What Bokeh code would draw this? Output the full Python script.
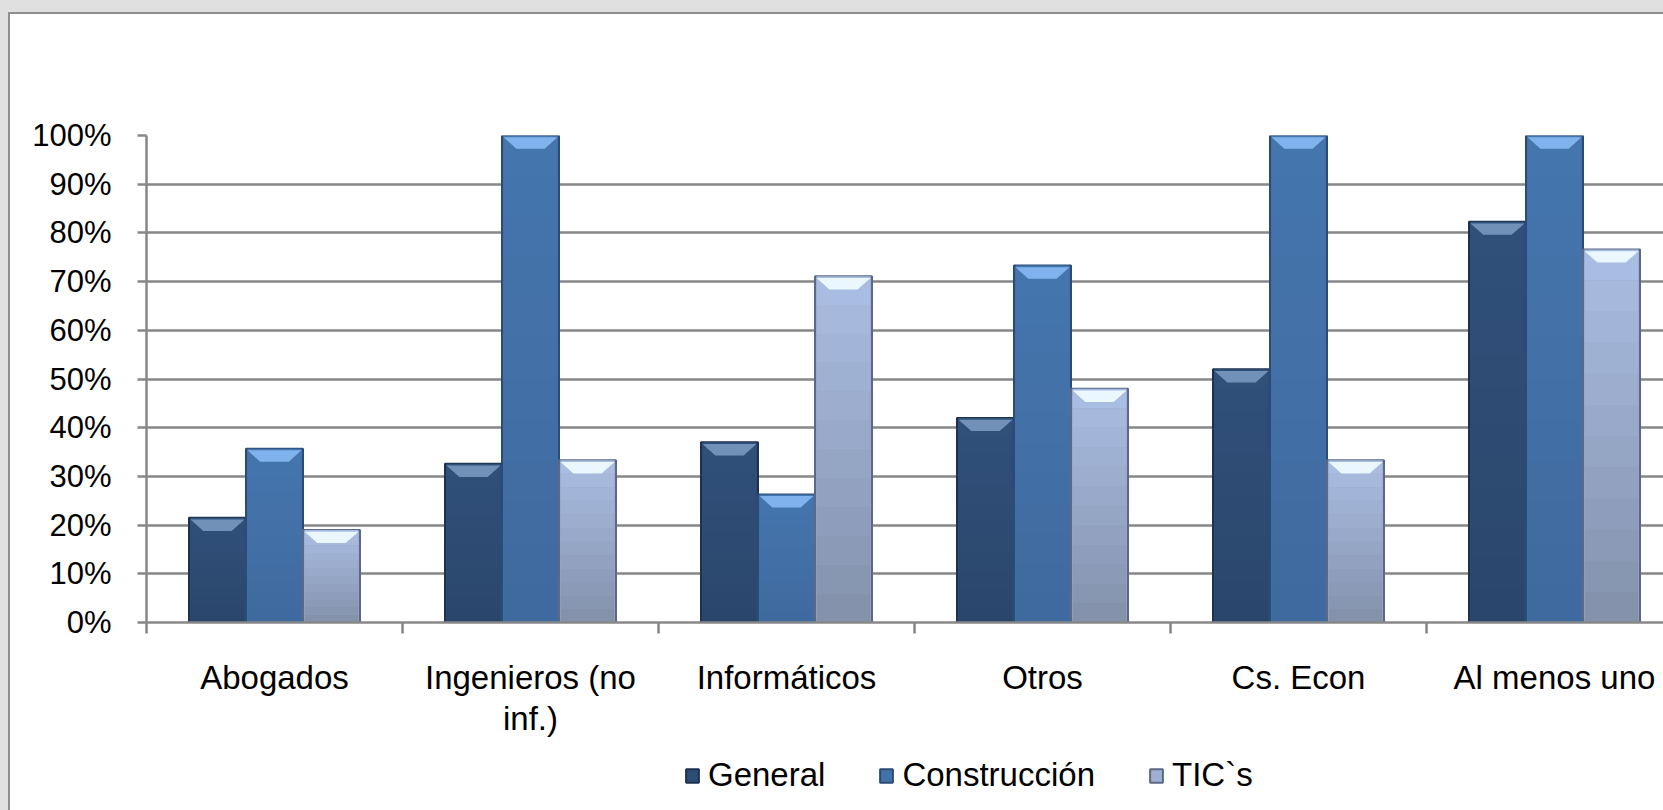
from bokeh.plotting import figure
from bokeh.layouts import column
from bokeh.models import FixedTicker, Legend, LegendItem, Range1d
from bokeh.embed import file_html
from bokeh.resources import INLINE

categories = ["Abogados", "Ingenieros (no\ninf.)", "Informáticos", "Otros", "Cs. Econ", "Al menos uno"]
series_names = ["General", "Construcción", "TIC`s"]
general = [21.5, 32.6, 37.0, 42.0, 52.0, 82.3]
construccion = [35.7, 100.0, 26.3, 73.3, 100.0, 100.0]
tics = [19.0, 33.3, 71.1, 48.0, 33.3, 76.6]
y_ticks = [0, 10, 20, 30, 40, 50, 60, 70, 80, 90, 100]
y_tick_labels = ["0%", "10%", "20%", "30%", "40%", "50%", "60%", "70%", "80%", "90%", "100%"]

FONT = "Liberation Sans"
OX, OY = 10, 14          # figure offset on the page (grey frame around)
LEG_H = 60               # height of the legend strip at the bottom
W = 1663 - OX
H = 810 - OY - LEG_H
BAR_W = 0.2227
BEV_H = 2.7      # bevel height in % units
BEV_D = 0.05     # bevel inset in category units
PAGE_BG = "#e0e0e0"
EDGE = "#8e8e8e"

p = figure(width=W, height=H, output_backend="svg", toolbar_location=None,
           x_range=Range1d(0, (1663 - 146) / 256.0), y_range=Range1d(0, 100),
           min_border_left=146 - OX, min_border_right=0, min_border_top=135 - OY,
           min_border_bottom=H - (622 - OY), margin=(OY, 0, 0, OX))
p.styles = {"box-shadow": f"-2px 0 0 0 {EDGE}, 0 -2px 0 0 {EDGE}, -2px -2px 0 0 {EDGE}, "
                          f"-{OX}px 0 0 0 {PAGE_BG}, 0 -{OY}px 0 0 {PAGE_BG}, -{OX}px -{OY}px 0 0 {PAGE_BG}"}
p.outline_line_color = None
p.background_fill_color = "white"
p.border_fill_color = "white"

grid_c = "#878787"
p.xgrid.visible = False
p.ygrid.grid_line_color = grid_c
p.ygrid.grid_line_width = 2.5

p.yaxis.ticker = FixedTicker(ticks=y_ticks)
p.yaxis.major_label_overrides = {t: l for t, l in zip(y_ticks, y_tick_labels)}
p.yaxis.major_label_text_font = FONT
p.yaxis.major_label_text_font_size = "31px"
p.yaxis.major_label_text_color = "black"
p.yaxis.major_tick_out = 9
p.yaxis.major_tick_in = 0
p.yaxis.minor_tick_line_color = None
p.yaxis.major_label_standoff = 26
p.yaxis.axis_line_color = grid_c
p.yaxis.axis_line_width = 2.5
p.yaxis.major_tick_line_color = grid_c
p.yaxis.major_tick_line_width = 2.5

centers = [i + 0.5 for i in range(len(categories))]
p.xaxis.ticker = FixedTicker(ticks=centers, minor_ticks=list(range(len(categories) + 1)))
p.xaxis.major_label_overrides = {c: l for c, l in zip(centers, categories)}
p.xaxis.major_label_text_font = FONT
p.xaxis.major_label_text_font_size = "33px"
p.xaxis.major_label_text_color = "black"
p.xaxis.major_label_text_line_height = 1.12
p.xaxis.major_label_standoff = 25
p.xaxis.major_tick_line_color = None
p.xaxis.major_tick_out = 0
p.xaxis.major_tick_in = 0
p.xaxis.minor_tick_out = 11
p.xaxis.minor_tick_in = 0
p.xaxis.minor_tick_line_color = grid_c
p.xaxis.minor_tick_line_width = 2.5
p.xaxis.axis_line_color = grid_c
p.xaxis.axis_line_width = 2.5


def mix(c1, c2, t):
    a = [int(c1[i:i + 2], 16) for i in (1, 3, 5)]
    b = [int(c2[i:i + 2], 16) for i in (1, 3, 5)]
    return "#%02x%02x%02x" % tuple(round(a[j] + (b[j] - a[j]) * t) for j in range(3))


styles = [
    dict(top="#30507a", bot="#2b466b", line="#1d3150", hi="#7291b8"),
    dict(top="#4575ae", bot="#3f6a9e", line="#2b4c78", hi="#80b3ee"),
    dict(top="#abbee3", bot="#8290aa", line="#5d6984", hi="#eaf7ff"),
]
NB = 12

for k, (name, vals) in enumerate(zip(series_names, [general, construccion, tics])):
    off = (k - 1) * BAR_W
    xs = [c + off for c in centers]
    st = styles[k]
    p.vbar(x=xs, top=vals, bottom=0, width=BAR_W, fill_color=mix(st["top"], st["bot"], 0.5),
           line_color=st["line"], line_width=2)
    for b in range(NB):
        t0, t1 = b / NB, (b + 1) / NB
        p.vbar(x=xs, top=[v * (1 - t0) for v in vals], bottom=[v * (1 - t1) for v in vals],
               width=BAR_W - 0.012, fill_color=mix(st["top"], st["bot"], (t0 + t1) / 2),
               line_color=None)
    pxs, pys = [], []
    for x, v in zip(xs, vals):
        l, rr = x - BAR_W / 2 + 0.006, x + BAR_W / 2 - 0.006
        pxs.append([l, rr, rr - BEV_D, l + BEV_D])
        pys.append([v - 0.35, v - 0.35, v - BEV_H, v - BEV_H])
    p.patches(xs=pxs, ys=pys, fill_color=st["hi"], line_color=None)

# legend strip (its frame is aligned with the main plot's frame by the column)
lf = figure(width=W, height=LEG_H, output_backend="svg", toolbar_location=None,
            x_range=Range1d(0, 1), y_range=Range1d(0, 1), x_axis_location=None,
            y_axis_location=None, min_border=0, margin=(0, 0, 0, OX))
lf.styles = {"box-shadow": f"-2px 0 0 0 {EDGE}, -{OX}px 0 0 0 {PAGE_BG}"}
lf.outline_line_color = None
lf.xgrid.visible = False
lf.ygrid.visible = False
lf.background_fill_color = "white"
lf.border_fill_color = "white"
items = []
for k, name in enumerate(series_names):
    st = styles[k]
    # zero-size key renderer: only its legend swatch is visible
    r = lf.vbar(x=[0.5], top=[0.5], bottom=[0.5], width=0, fill_color=mix(st["top"], st["bot"], 0.3),
                line_color=st["line"], line_width=2)
    items.append(LegendItem(label=name, renderers=[r]))
legend = Legend(items=items, orientation="horizontal", location=(538, 16),
                label_text_font=FONT, label_text_font_size="33px", label_text_color="black",
                glyph_width=16, glyph_height=17, label_standoff=8, spacing=53,
                padding=0, margin=0, border_line_color=None, background_fill_alpha=0)
lf.add_layout(legend, "center")

page = column(p, lf, spacing=0, styles={"background-color": "white"})
open("out.html", "w").write(file_html(page, INLINE))
